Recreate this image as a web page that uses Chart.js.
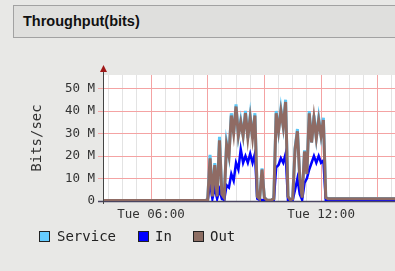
<!DOCTYPE html>
<html>
<head>
<meta charset="utf-8">
<script src="https://cdn.jsdelivr.net/npm/chart.js@4"></script>
<style>
  body { margin:0; background:#e8e8e6; width:395px; height:271px; overflow:hidden; position:relative; }
  #titulo { position:absolute; left:13px; top:5px; width:400px; height:33px; box-sizing:border-box;
            background:#dfdfdd; border:1px solid #a2a2a2; color:#111;
            font:bold 14.5px "Liberation Sans", Arial, sans-serif; line-height:31px; padding-left:9px; }
  #grafica { position:absolute; left:0; top:0; }
  .caja { position:absolute; top:231px; width:11px; height:11px; box-sizing:border-box; border:1px solid #222; }
  .txt { position:absolute; top:228px; font:14px "DejaVu Sans Mono", monospace; color:#222; line-height:16px; }
</style>
</head>
<body>
<div id="titulo">Throughput(bits)</div>
<canvas id="grafica" width="395" height="271"></canvas>

<div class="caja" style="left:39px;background:#66ccff"></div><div class="txt" style="left:57px">Service</div>
<div class="caja" style="left:138px;background:#0000ff"></div><div class="txt" style="left:155px">In</div>
<div class="caja" style="left:193px;background:#8d6e63"></div><div class="txt" style="left:210px">Out</div>

<script>
// muestras cada 5 minutos durante la actividad, valores en Mbit/s
const horas = ["04:00","07:55",
  "08:00","08:05","08:10","08:15","08:20","08:25","08:30","08:35","08:40","08:45","08:50","08:55",
  "09:00","09:05","09:10","09:15","09:20","09:25","09:30","09:35","09:40","09:45","09:50","09:55",
  "10:00","10:05","10:10","10:15","10:20","10:25","10:30","10:35","10:40","10:45","10:50","10:55",
  "11:00","11:05","11:10","11:15","11:20","11:25","11:30","11:35","11:40","11:45","11:50","11:55",
  "12:00","12:05","12:10","12:15","12:20","15:00"];

const serieOut = [0.2,0.2,
  0.5,19,2,16,2,27,3,1.5,25,20,38,30,
  42,29,35,29,39,28,37,28,38,2,1,14,
  1.5,0.5,0.3,0.5,1,39,31,40,33,44,2,0.5,
  1,23,31,10,1.5,22,12,39,26,37,28,36,
  29,36,1.5,1,1,1];

const serieIn = [0.2,0.2,
  0.3,8,1,6,1,5,1,0.5,7,6,12,9,
  17,14,23,17,20,17,21,17,21,1,0.5,0.5,
  0.5,0.2,0.2,0.2,0.5,15,16,19,17,21,0.5,0.3,
  0.5,5,10,3,0.5,8,10,14,17,20,17,20,
  17,18,0.5,0.3,0.3,0.3];

const serieService = [0.2,0.2,
  0.5,20.5,2,16.8,2,28.5,3,1.5,26,20,39,30,
  43,29,36,29,40,28,38,28,39,2,1,14.5,
  1.5,0.5,0.3,0.5,1,40,31,41,33,45,2,0.5,
  1,23.5,32,10,1.5,22.5,12,40,26,38,28,37,
  29,37,1.5,1.1,1.1,1.1];

const marcasY = [0,5,10,15,20,25,30,35,40,45,50,55];
const marcasX = [4.5,5,5.5,6,6.5,7,7.5,8,8.5,9,9.5,10,10.5,11,11.5,12,12.5,13,13.5,14,14.5];
const etiquetasX = { 6: "Tue 06:00", 12: "Tue 12:00" };

const rojo = "#f4a3a3";
const gris = "#e3e3e3";

function aHoras(h) {
  const [hh, mm] = h.split(":").map(Number);
  return hh + mm / 60;
}
function puntos(serie) {
  return horas.map((h, i) => ({ x: aHoras(h), y: serie[i] }));
}

const ejes = {
  id: "ejes",
  beforeDraw(chart) {
    const { ctx, chartArea: a } = chart;
    ctx.save();
    ctx.fillStyle = "#ffffff";
    ctx.fillRect(a.left, a.top, a.right - a.left, a.bottom - a.top);
    ctx.restore();
  },
  beforeDatasetsDraw(chart) {
    const { ctx, chartArea: a } = chart;
    ctx.save();
    ctx.strokeStyle = "#4a4560";
    ctx.lineWidth = 1.5;
    ctx.beginPath();
    ctx.moveTo(98, a.bottom + 0.5);
    ctx.lineTo(a.right, a.bottom + 0.5);
    ctx.stroke();
    ctx.restore();
  },
  afterDraw(chart) {
    const { ctx, chartArea: a } = chart;
    ctx.save();
    ctx.strokeStyle = "#444";
    ctx.lineWidth = 1;
    ctx.beginPath();
    ctx.moveTo(a.left + 0.5, 70);
    ctx.lineTo(a.left + 0.5, a.bottom + 3);
    ctx.stroke();
    ctx.fillStyle = "#a01818";
    ctx.beginPath();
    ctx.moveTo(a.left + 0.5, 65);
    ctx.lineTo(a.left - 3, 72);
    ctx.lineTo(a.left + 4, 72);
    ctx.closePath();
    ctx.fill();
    ctx.restore();
  }
};

new Chart(document.getElementById("grafica"), {
  type: "line",
  data: {
    datasets: [
      { label: "Service", data: puntos(serieService), borderColor: "#5cc6f6", borderWidth: 3, order: 3 },
      { label: "In", data: puntos(serieIn), borderColor: "#0000ff", borderWidth: 2.5, order: 2 },
      { label: "Out", data: puntos(serieOut), borderColor: "#8f6b64", borderWidth: 3, order: 1 }
    ]
  },
  options: {
    responsive: false,
    animation: false,
    elements: { point: { radius: 0 }, line: { tension: 0 } },
    layout: { padding: { top: 75, left: 0, right: 0, bottom: 45 } },
    plugins: { legend: { display: false }, tooltip: { enabled: false } },
    scales: {
      x: {
        type: "linear",
        min: 4.306,
        max: 14.61,
        afterBuildTicks: s => { s.ticks = marcasX.map(v => ({ value: v })); },
        afterFit: s => { s.height = 25; },
        ticks: {
          autoSkip: false, maxRotation: 0, padding: 3,
          color: "#333", font: { family: "DejaVu Sans Mono", size: 12.5 },
          callback: v => etiquetasX[v] || ""
        },
        grid: {
          color: c => (c.tick && c.tick.value % 2 === 0) ? rojo : gris,
          tickLength: 3, tickColor: "rgba(0,0,0,0)"
        },
        border: { display: false }
      },
      y: {
        min: 0,
        max: 56,
        afterBuildTicks: s => { s.ticks = marcasY.map(v => ({ value: v })); },
        afterFit: s => { s.width = 103; },
        ticks: {
          padding: 3, color: "#333", font: { family: "DejaVu Sans Mono", size: 12.5 },
          callback: v => v % 10 !== 0 ? "" : (v === 0 ? "0" : v + " M")
        },
        grid: {
          color: c => (c.tick && c.tick.value % 10 === 0) ? rojo : gris,
          tickLength: 5,
          tickColor: c => c.tick.value === 0 ? "#444" : (c.tick.value % 10 === 0 ? rojo : "rgba(0,0,0,0)")
        },
        border: { display: false },
        title: {
          display: true, text: "Bits/sec", color: "#333",
          font: { family: "DejaVu Sans Mono", size: 14 }, padding: { top: 29, bottom: 0 }
        }
      }
    }
  },
  plugins: [ejes]
});
</script>
</body>
</html>
